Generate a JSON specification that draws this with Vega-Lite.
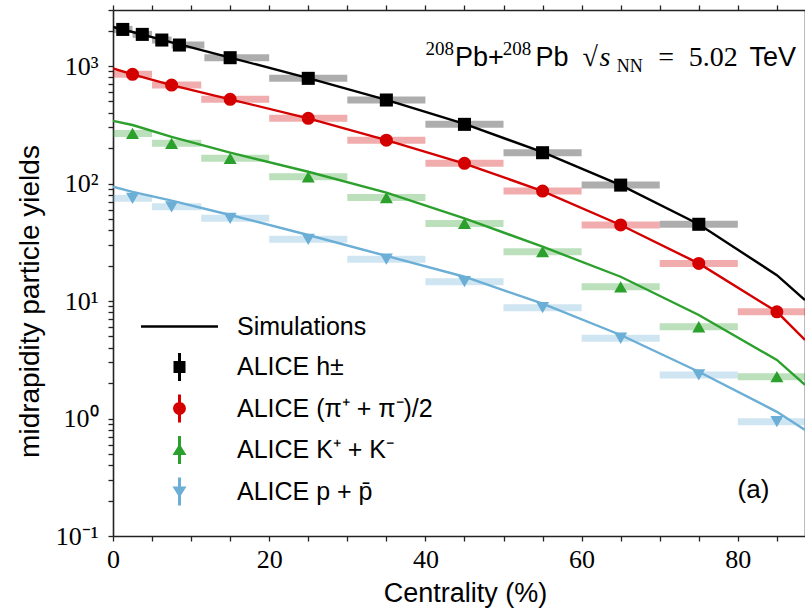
{
  "$schema": "https://vega.github.io/schema/vega-lite/v6.json",
  "width": 692,
  "height": 526,
  "autosize": "none",
  "padding": {"left": 113, "top": 10, "right": 0, "bottom": 74},
  "background": "white",
  "config": {"view": {"stroke": null}},
  "datasets": {
    "pts": [
      {"s": "ALICE h±", "x": 1.25, "y": 2050, "lo": 0, "hi": 2.5},
      {"s": "ALICE h±", "x": 3.75, "y": 1860, "lo": 2.5, "hi": 5},
      {"s": "ALICE h±", "x": 6.25, "y": 1665, "lo": 5, "hi": 7.5},
      {"s": "ALICE h±", "x": 8.5, "y": 1510, "lo": 7.5, "hi": 11.7},
      {"s": "ALICE h±", "x": 15, "y": 1178, "lo": 11.7, "hi": 20},
      {"s": "ALICE h±", "x": 25, "y": 786, "lo": 20, "hi": 30},
      {"s": "ALICE h±", "x": 35, "y": 514, "lo": 30, "hi": 40},
      {"s": "ALICE h±", "x": 45, "y": 319, "lo": 40, "hi": 50},
      {"s": "ALICE h±", "x": 55, "y": 183, "lo": 50, "hi": 60},
      {"s": "ALICE h±", "x": 65, "y": 97, "lo": 60, "hi": 70},
      {"s": "ALICE h±", "x": 75, "y": 45, "lo": 70, "hi": 80},
      {"s": "ALICE (π⁺ + π⁻)/2", "x": 2.5, "y": 850, "lo": 0, "hi": 5},
      {"s": "ALICE (π⁺ + π⁻)/2", "x": 7.5, "y": 689, "lo": 5, "hi": 11.3},
      {"s": "ALICE (π⁺ + π⁻)/2", "x": 15, "y": 521, "lo": 11.3, "hi": 20},
      {"s": "ALICE (π⁺ + π⁻)/2", "x": 25, "y": 359, "lo": 20, "hi": 30},
      {"s": "ALICE (π⁺ + π⁻)/2", "x": 35, "y": 234, "lo": 30, "hi": 40},
      {"s": "ALICE (π⁺ + π⁻)/2", "x": 45, "y": 148.6, "lo": 40, "hi": 50},
      {"s": "ALICE (π⁺ + π⁻)/2", "x": 55, "y": 86.3, "lo": 50, "hi": 60},
      {"s": "ALICE (π⁺ + π⁻)/2", "x": 65, "y": 44.4, "lo": 60, "hi": 70},
      {"s": "ALICE (π⁺ + π⁻)/2", "x": 75, "y": 20.9, "lo": 70, "hi": 80},
      {"s": "ALICE (π⁺ + π⁻)/2", "x": 85, "y": 8.1, "lo": 80, "hi": 90},
      {"s": "ALICE K⁺ + K⁻", "x": 2.5, "y": 267, "lo": 0, "hi": 5},
      {"s": "ALICE K⁺ + K⁻", "x": 7.5, "y": 220, "lo": 5, "hi": 11.3},
      {"s": "ALICE K⁺ + K⁻", "x": 15, "y": 164, "lo": 11.3, "hi": 20},
      {"s": "ALICE K⁺ + K⁻", "x": 25, "y": 114, "lo": 20, "hi": 30},
      {"s": "ALICE K⁺ + K⁻", "x": 35, "y": 76, "lo": 30, "hi": 40},
      {"s": "ALICE K⁺ + K⁻", "x": 45, "y": 45.8, "lo": 40, "hi": 50},
      {"s": "ALICE K⁺ + K⁻", "x": 55, "y": 26.3, "lo": 50, "hi": 60},
      {"s": "ALICE K⁺ + K⁻", "x": 65, "y": 13.2, "lo": 60, "hi": 70},
      {"s": "ALICE K⁺ + K⁻", "x": 75, "y": 6.04, "lo": 70, "hi": 80},
      {"s": "ALICE K⁺ + K⁻", "x": 85, "y": 2.27, "lo": 80, "hi": 90},
      {"s": "ALICE p + p̄", "x": 2.5, "y": 74.8, "lo": 0, "hi": 5},
      {"s": "ALICE p + p̄", "x": 7.5, "y": 63.4, "lo": 5, "hi": 11.3},
      {"s": "ALICE p + p̄", "x": 15, "y": 50.6, "lo": 11.3, "hi": 20},
      {"s": "ALICE p + p̄", "x": 25, "y": 33.5, "lo": 20, "hi": 30},
      {"s": "ALICE p + p̄", "x": 35, "y": 22.7, "lo": 30, "hi": 40},
      {"s": "ALICE p + p̄", "x": 45, "y": 14.6, "lo": 40, "hi": 50},
      {"s": "ALICE p + p̄", "x": 55, "y": 8.77, "lo": 50, "hi": 60},
      {"s": "ALICE p + p̄", "x": 65, "y": 4.82, "lo": 60, "hi": 70},
      {"s": "ALICE p + p̄", "x": 75, "y": 2.35, "lo": 70, "hi": 80},
      {"s": "ALICE p + p̄", "x": 85, "y": 0.94, "lo": 80, "hi": 90}
    ],
    "sim": [
      {"s": "ALICE h±", "x": 0, "y": 2150},
      {"s": "ALICE h±", "x": 2.5, "y": 1950},
      {"s": "ALICE h±", "x": 5, "y": 1760},
      {"s": "ALICE h±", "x": 7.5, "y": 1590},
      {"s": "ALICE h±", "x": 10, "y": 1440},
      {"s": "ALICE h±", "x": 15, "y": 1180},
      {"s": "ALICE h±", "x": 25, "y": 790},
      {"s": "ALICE h±", "x": 35, "y": 515},
      {"s": "ALICE h±", "x": 45, "y": 322},
      {"s": "ALICE h±", "x": 55, "y": 185},
      {"s": "ALICE h±", "x": 65, "y": 97},
      {"s": "ALICE h±", "x": 75, "y": 45},
      {"s": "ALICE h±", "x": 85, "y": 16.6},
      {"s": "ALICE h±", "x": 88.6, "y": 10.2},
      {"s": "ALICE (π⁺ + π⁻)/2", "x": 0, "y": 955},
      {"s": "ALICE (π⁺ + π⁻)/2", "x": 2.5, "y": 850},
      {"s": "ALICE (π⁺ + π⁻)/2", "x": 7.5, "y": 689},
      {"s": "ALICE (π⁺ + π⁻)/2", "x": 15, "y": 521},
      {"s": "ALICE (π⁺ + π⁻)/2", "x": 25, "y": 359},
      {"s": "ALICE (π⁺ + π⁻)/2", "x": 35, "y": 234},
      {"s": "ALICE (π⁺ + π⁻)/2", "x": 45, "y": 148},
      {"s": "ALICE (π⁺ + π⁻)/2", "x": 55, "y": 86.3},
      {"s": "ALICE (π⁺ + π⁻)/2", "x": 65, "y": 44.4},
      {"s": "ALICE (π⁺ + π⁻)/2", "x": 75, "y": 20.9},
      {"s": "ALICE (π⁺ + π⁻)/2", "x": 85, "y": 8.1},
      {"s": "ALICE (π⁺ + π⁻)/2", "x": 88.6, "y": 4.66},
      {"s": "ALICE K⁺ + K⁻", "x": 0, "y": 342},
      {"s": "ALICE K⁺ + K⁻", "x": 2.5, "y": 315},
      {"s": "ALICE K⁺ + K⁻", "x": 7.5, "y": 250},
      {"s": "ALICE K⁺ + K⁻", "x": 15, "y": 183},
      {"s": "ALICE K⁺ + K⁻", "x": 25, "y": 126},
      {"s": "ALICE K⁺ + K⁻", "x": 35, "y": 83.6},
      {"s": "ALICE K⁺ + K⁻", "x": 45, "y": 50.6},
      {"s": "ALICE K⁺ + K⁻", "x": 55, "y": 29},
      {"s": "ALICE K⁺ + K⁻", "x": 65, "y": 16.1},
      {"s": "ALICE K⁺ + K⁻", "x": 75, "y": 7.6},
      {"s": "ALICE K⁺ + K⁻", "x": 85, "y": 3.15},
      {"s": "ALICE K⁺ + K⁻", "x": 88.6, "y": 1.93},
      {"s": "ALICE p + p̄", "x": 0, "y": 94},
      {"s": "ALICE p + p̄", "x": 2.5, "y": 85},
      {"s": "ALICE p + p̄", "x": 7.5, "y": 71.5},
      {"s": "ALICE p + p̄", "x": 15, "y": 54},
      {"s": "ALICE p + p̄", "x": 25, "y": 36.5},
      {"s": "ALICE p + p̄", "x": 35, "y": 24.2},
      {"s": "ALICE p + p̄", "x": 45, "y": 16.1},
      {"s": "ALICE p + p̄", "x": 55, "y": 9.5},
      {"s": "ALICE p + p̄", "x": 65, "y": 5.14},
      {"s": "ALICE p + p̄", "x": 75, "y": 2.5},
      {"s": "ALICE p + p̄", "x": 85, "y": 1.14},
      {"s": "ALICE p + p̄", "x": 88.6, "y": 0.8}
    ],
    "legend": [
      {"s": "Simulations"},
      {"s": "ALICE h±"},
      {"s": "ALICE (π⁺ + π⁻)/2"},
      {"s": "ALICE K⁺ + K⁻"},
      {"s": "ALICE p + p̄"}
    ],
    "notes": [
      {"t": "208", "x": 40.0, "y": 1000, "f": "sup"},
      {"t": "Pb+", "x": 43.8, "y": 1000, "f": "sans"},
      {"t": "208", "x": 49.9, "y": 1000, "f": "sup"},
      {"t": "Pb", "x": 54.1, "y": 1000, "f": "sans"},
      {"t": "√", "x": 60.1, "y": 1000, "f": "serif"},
      {"t": "s", "x": 62.3, "y": 1000, "f": "italic"},
      {"t": "NN", "x": 64.5, "y": 1000, "f": "sub"},
      {"t": "=", "x": 69.8, "y": 1000, "f": "serif"},
      {"t": "5.02", "x": 73.7, "y": 1000, "f": "serif"},
      {"t": "TeV", "x": 81.5, "y": 1000, "f": "sans"}
    ]
  },
  "layer": [
    {
      "layer": [
        {
          "data": {"name": "pts"},
          "mark": {"type": "rule", "strokeWidth": 7, "opacity": 0.32, "strokeCap": "butt", "clip": true},
          "encoding": {
            "x": {
              "field": "lo", "type": "quantitative", "title": "Centrality (%)",
              "scale": {"domain": [0, 88.6], "nice": false, "zero": false},
              "axis": {
                "orient": "bottom",
                "values": [0, 5, 10, 15, 20, 25, 30, 35, 40, 45, 50, 55, 60, 65, 70, 75, 80, 85],
                "labelExpr": "datum.value % 20 === 0 ? datum.label : ''",
                "tickSize": 5,
                "encode": {"ticks": {"update": {"y2": {"signal": "datum.value % 20 === 0 ? -9 : -5"}}}},
                "labelPadding": 5,
                "labelFlush": false,
                "labelOverlap": false,
                "labelFont": "Liberation Serif",
                "labelFontSize": 26,
                "labelColor": "#000000",
                "titleFont": "Liberation Sans",
                "titleFontSize": 27,
                "titleFontWeight": "normal",
                "titleColor": "#000000",
                "titleX": 352,
                "titleY": 57,
                "titleBaseline": "middle",
                "grid": false,
                "domainColor": "#222222",
                "domainWidth": 1.6,
                "tickColor": "#222222",
                "tickWidth": 1.3
              }
            },
            "x2": {"field": "hi"},
            "y": {
              "field": "y", "type": "quantitative", "title": "midrapidity particle yields",
              "scale": {"type": "log", "domain": [0.1, 3000], "nice": false},
              "axis": {
                "orient": "left",
                "values": [0.1, 0.2, 0.3, 0.4, 0.5, 0.6, 0.7, 0.8, 0.9, 1, 2, 3, 4, 5, 6, 7, 8, 9, 10, 20, 30, 40, 50, 60, 70, 80, 90, 100, 200, 300, 400, 500, 600, 700, 800, 900, 1000, 2000, 3000],
                "labelExpr": "abs(log(datum.value)/LN10 - round(log(datum.value)/LN10)) < 0.001 ? (round(log(datum.value)/LN10) == 3 ? '10³' : round(log(datum.value)/LN10) == 2 ? '10²' : round(log(datum.value)/LN10) == 1 ? '10¹' : round(log(datum.value)/LN10) == 0 ? '10⁰' : '10⁻¹') : ''",
                "tickSize": 5,
                "encode": {"ticks": {"update": {"x2": {"signal": "abs(log(datum.value)/LN10 - round(log(datum.value)/LN10)) < 0.001 ? 9 : 5"}}}},
                "labelPadding": 10,
                "labelFlush": false,
                "labelOverlap": false,
                "labelBaseline": "middle",
                "labelFont": "Liberation Serif",
                "labelFontSize": 26,
                "labelColor": "#000000",
                "titleFont": "Liberation Sans",
                "titleFontSize": 28,
                "titleFontWeight": "normal",
                "titleColor": "#000000",
                "titleX": -83,
                "titleY": 291,
                "titleBaseline": "middle",
                "titleAngle": -90,
                "grid": false,
                "domainColor": "#222222",
                "domainWidth": 1.6,
                "tickColor": "#222222",
                "tickWidth": 1.3
              }
            },
            "color": {
              "field": "s", "type": "nominal", "legend": null,
              "scale": {"domain": ["Simulations", "ALICE h±", "ALICE (π⁺ + π⁻)/2", "ALICE K⁺ + K⁻", "ALICE p + p̄"], "range": ["#000000", "#000000", "#d40000", "#2ca02c", "#6baed6"]}
            }
          }
        },
        {
          "data": {"name": "sim"},
          "mark": {"type": "line", "strokeWidth": 2.4, "clip": true},
          "encoding": {
            "x": {"field": "x", "type": "quantitative", "title": "Centrality (%)", "scale": {"domain": [0, 88.6], "nice": false, "zero": false}},
            "y": {"field": "y", "type": "quantitative", "title": "midrapidity particle yields", "scale": {"type": "log", "domain": [0.1, 3000], "nice": false}},
            "color": {
              "field": "s", "type": "nominal", "legend": null,
              "scale": {"domain": ["Simulations", "ALICE h±", "ALICE (π⁺ + π⁻)/2", "ALICE K⁺ + K⁻", "ALICE p + p̄"], "range": ["#000000", "#000000", "#d40000", "#2ca02c", "#6baed6"]}
            }
          }
        },
        {
          "data": {"name": "pts"},
          "mark": {"type": "point", "filled": true, "opacity": 1, "size": 170},
          "encoding": {
            "x": {"field": "x", "type": "quantitative", "title": "Centrality (%)", "scale": {"domain": [0, 88.6], "nice": false, "zero": false}},
            "y": {"field": "y", "type": "quantitative", "title": "midrapidity particle yields", "scale": {"type": "log", "domain": [0.1, 3000], "nice": false}},
            "color": {
              "field": "s", "type": "nominal", "legend": null,
              "scale": {"domain": ["Simulations", "ALICE h±", "ALICE (π⁺ + π⁻)/2", "ALICE K⁺ + K⁻", "ALICE p + p̄"], "range": ["#000000", "#000000", "#d40000", "#2ca02c", "#6baed6"]}
            },
            "shape": {
              "field": "s", "type": "nominal", "legend": null,
              "scale": {"domain": ["ALICE h±", "ALICE (π⁺ + π⁻)/2", "ALICE K⁺ + K⁻", "ALICE p + p̄"], "range": ["square", "circle", "triangle-up", "triangle-down"]}
            }
          }
        },
        {
          "data": {"name": "legend"},
          "transform": [{"filter": "false"}],
          "mark": {"type": "point", "filled": true, "opacity": 1},
          "encoding": {
            "color": {
              "field": "s", "type": "nominal",
              "scale": {"domain": ["Simulations", "ALICE h±", "ALICE (π⁺ + π⁻)/2", "ALICE K⁺ + K⁻", "ALICE p + p̄"], "range": ["#000000", "#000000", "#d40000", "#2ca02c", "#6baed6"]},
              "legend": {
                "title": null,
                "orient": "none",
                "legendX": 54,
                "legendY": 304,
                "padding": 0,
                "symbolSize": 400,
                "symbolStrokeWidth": 0,
                "symbolOpacity": 1,
                "labelFont": "Liberation Sans",
                "labelFontSize": 25,
                "labelColor": "#000000",
                "labelOffset": 45,
                "labelLimit": 500,
                "rowPadding": 12.5,
                "labelBaseline": "middle"
              }
            },
            "shape": {
              "field": "s", "type": "nominal",
              "scale": {
                "domain": ["Simulations", "ALICE h±", "ALICE (π⁺ + π⁻)/2", "ALICE K⁺ + K⁻", "ALICE p + p̄"],
                "range": [
                  "M-3.85,-0.12H3.85V0.12H-3.85Z",
                  "M-0.6,-0.6H0.6V0.6H-0.6Z M-0.15,-1.4H0.15V1.4H-0.15Z",
                  "M0.64,0A0.64,0.64 0 1,1 -0.64,0A0.64,0.64 0 1,1 0.64,0Z M-0.15,-1.4H0.15V1.4H-0.15Z",
                  "M0,-0.62L0.7,0.5L-0.7,0.5Z M-0.15,-1.4H0.15V1.4H-0.15Z",
                  "M0,0.62L-0.7,-0.5L0.7,-0.5Z M-0.15,-1.4H0.15V1.4H-0.15Z"
                ]
              }
            }
          }
        },
        {
          "data": {"name": "notes"},
          "transform": [{"filter": "datum.f === 'sans'"}],
          "mark": {"type": "text", "font": "Liberation Sans", "fontSize": 27, "align": "left", "baseline": "alphabetic", "color": "#000000"},
          "encoding": {
            "text": {"field": "t"},
            "x": {"field": "x", "type": "quantitative", "scale": {"domain": [0, 88.6], "nice": false, "zero": false}},
            "y": {"field": "y", "type": "quantitative", "scale": {"type": "log", "domain": [0.1, 3000], "nice": false}}
          }
        },
        {
          "data": {"name": "notes"},
          "transform": [{"filter": "datum.f === 'serif'"}],
          "mark": {"type": "text", "font": "Liberation Serif", "fontSize": 28, "align": "left", "baseline": "alphabetic", "color": "#000000"},
          "encoding": {
            "text": {"field": "t"},
            "x": {"field": "x", "type": "quantitative", "scale": {"domain": [0, 88.6], "nice": false, "zero": false}},
            "y": {"field": "y", "type": "quantitative", "scale": {"type": "log", "domain": [0.1, 3000], "nice": false}}
          }
        },
        {
          "data": {"name": "notes"},
          "transform": [{"filter": "datum.f === 'italic'"}],
          "mark": {"type": "text", "font": "Liberation Serif", "fontSize": 28, "fontStyle": "italic", "align": "left", "baseline": "alphabetic", "color": "#000000"},
          "encoding": {
            "text": {"field": "t"},
            "x": {"field": "x", "type": "quantitative", "scale": {"domain": [0, 88.6], "nice": false, "zero": false}},
            "y": {"field": "y", "type": "quantitative", "scale": {"type": "log", "domain": [0.1, 3000], "nice": false}}
          }
        },
        {
          "data": {"name": "notes"},
          "transform": [{"filter": "datum.f === 'sup'"}],
          "mark": {"type": "text", "font": "Liberation Serif", "fontSize": 19, "align": "left", "baseline": "alphabetic", "dy": -11, "color": "#000000"},
          "encoding": {
            "text": {"field": "t"},
            "x": {"field": "x", "type": "quantitative", "scale": {"domain": [0, 88.6], "nice": false, "zero": false}},
            "y": {"field": "y", "type": "quantitative", "scale": {"type": "log", "domain": [0.1, 3000], "nice": false}}
          }
        },
        {
          "data": {"name": "notes"},
          "transform": [{"filter": "datum.f === 'sub'"}],
          "mark": {"type": "text", "font": "Liberation Serif", "fontSize": 18, "align": "left", "baseline": "alphabetic", "dy": 6, "color": "#000000"},
          "encoding": {
            "text": {"field": "t"},
            "x": {"field": "x", "type": "quantitative", "scale": {"domain": [0, 88.6], "nice": false, "zero": false}},
            "y": {"field": "y", "type": "quantitative", "scale": {"type": "log", "domain": [0.1, 3000], "nice": false}}
          }
        },
        {
          "data": {"values": [{"t": "(a)"}]},
          "mark": {"type": "text", "font": "Liberation Sans", "fontSize": 26, "align": "center", "baseline": "middle", "color": "#000000"},
          "encoding": {
            "text": {"field": "t"},
            "x": {"datum": 82.0, "type": "quantitative", "scale": {"domain": [0, 88.6], "nice": false, "zero": false}},
            "y": {"datum": 0.246, "type": "quantitative", "scale": {"type": "log", "domain": [0.1, 3000], "nice": false}}
          }
        }
      ],
      "resolve": {"scale": {"color": "independent", "shape": "independent"}}
    },
    {
      "data": {"name": "sim"},
      "mark": {"type": "point", "opacity": 0},
      "encoding": {
        "x": {
          "field": "x", "type": "quantitative",
          "scale": {"domain": [0, 88.6], "nice": false, "zero": false},
          "axis": {
            "orient": "top",
            "title": null,
            "labels": false,
            "values": [0, 5, 10, 15, 20, 25, 30, 35, 40, 45, 50, 55, 60, 65, 70, 75, 80, 85],
            "tickSize": 5,
            "encode": {"ticks": {"update": {"y2": {"signal": "datum.value % 20 === 0 ? 9 : 5"}}}},
            "grid": false,
            "domainColor": "#222222",
            "domainWidth": 1.6,
            "tickColor": "#222222",
            "tickWidth": 1.3
          }
        },
        "y": {
          "field": "y", "type": "quantitative",
          "scale": {"type": "log", "domain": [0.1, 3000], "nice": false},
          "axis": {
            "orient": "right",
            "title": null,
            "labels": false,
            "values": [0.1, 0.2, 0.3, 0.4, 0.5, 0.6, 0.7, 0.8, 0.9, 1, 2, 3, 4, 5, 6, 7, 8, 9, 10, 20, 30, 40, 50, 60, 70, 80, 90, 100, 200, 300, 400, 500, 600, 700, 800, 900, 1000, 2000, 3000],
            "tickSize": 5,
            "encode": {"ticks": {"update": {"x2": {"signal": "abs(log(datum.value)/LN10 - round(log(datum.value)/LN10)) < 0.001 ? -9 : -5"}}}},
            "grid": false,
            "domainColor": "#222222",
            "domainWidth": 1.6,
            "tickColor": "#222222",
            "tickWidth": 1.3
          }
        }
      }
    }
  ],
  "resolve": {"axis": {"x": "independent", "y": "independent"}}
}
